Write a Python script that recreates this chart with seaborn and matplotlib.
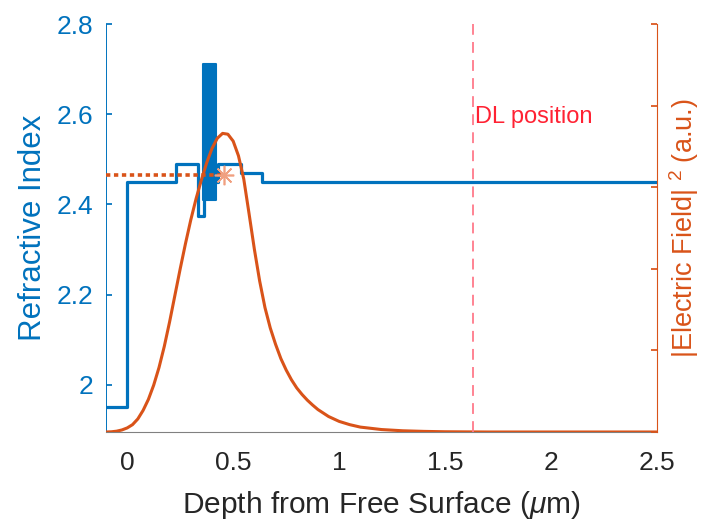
import matplotlib
matplotlib.use("Agg")
import matplotlib.pyplot as plt
import seaborn as sns
import pandas as pd

# ================================
# Data
# ================================
# refractive index profile (step edges, value holds until next edge)
depth_edges = [-0.1, 0.0, 0.23, 0.334, 0.36, 0.42, 0.43, 0.535, 0.635, 2.5]
n_values = [1.95, 2.45, 2.49, 2.375, 2.45, 2.45, 2.49, 2.47, 2.45, 2.45]

# superlattice block (thick blue bar)
sl_depth = [0.357, 0.418]
sl_low = 2.41
sl_high = 2.712

# |E|^2 profile (a.u.)
field_depth = [-0.1, -0.075, -0.05, -0.025, 0.0, 0.025, 0.05, 0.075, 0.1, 0.125,
               0.15, 0.175, 0.2, 0.225, 0.25, 0.275, 0.3, 0.325, 0.35, 0.375,
               0.4, 0.425, 0.45, 0.475, 0.5, 0.525, 0.55, 0.575, 0.6, 0.625,
               0.65, 0.675, 0.7, 0.725, 0.75, 0.775, 0.8, 0.825, 0.85, 0.875,
               0.9, 0.95, 1.0, 1.05, 1.1, 1.2, 1.3, 1.4, 1.5, 1.7, 2.5]
field_values = [0.0, 0.0005, 0.002, 0.005, 0.01, 0.018, 0.032, 0.053, 0.08, 0.115,
                0.158, 0.21, 0.27, 0.335, 0.40, 0.462, 0.52, 0.572, 0.618, 0.66,
                0.695, 0.72, 0.732, 0.73, 0.713, 0.677, 0.62, 0.535, 0.448, 0.37,
                0.305, 0.255, 0.215, 0.18, 0.152, 0.128, 0.108, 0.092, 0.078, 0.066,
                0.055, 0.038, 0.026, 0.018, 0.012, 0.006, 0.003, 0.0015, 0.0006, 0.0, 0.0]

# dotted marker line
marker_line_x = [-0.1, 0.456]
marker_line_y = [0.63, 0.63]

dl_position = 1.63
x_ticks = [0, 0.5, 1, 1.5, 2, 2.5]
x_tick_labels = ["0", "0.5", "1", "1.5", "2", "2.5"]
n_ticks = [2.0, 2.2, 2.4, 2.6, 2.8]
n_tick_labels = ["2", "2.2", "2.4", "2.6", "2.8"]
field_ticks = [0, 0.2, 0.4, 0.6, 0.8, 1.0]

BLUE = "#0072BD"
ORANGE = "#D95319"

# ================================
# Plot
# ================================
sns.set_theme(style="white")
plt.rcParams["font.family"] = ["Liberation Sans", "DejaVu Sans"]
plt.rcParams["mathtext.fontset"] = "custom"
plt.rcParams["mathtext.it"] = "Liberation Sans:italic"
plt.rcParams["mathtext.rm"] = "Liberation Sans"

fig = plt.figure(figsize=(7.13, 5.23), dpi=100)
ax = fig.add_axes([0.1487, 0.174, 0.7728, 0.78])

profile = pd.DataFrame({"depth": depth_edges, "n": n_values})
sns.lineplot(data=profile, x="depth", y="n", ax=ax, color=BLUE, linewidth=2.3,
             drawstyle="steps-post", sort=False)
ax.fill_between(sl_depth, sl_low, sl_high, color=BLUE, linewidth=1.5, edgecolor=BLUE)

ax.set_xlim(-0.1, 2.5)
ax.set_ylim(1.895, 2.8)
ax.set_xticks(x_ticks)
ax.set_xticklabels(x_tick_labels)
ax.set_yticks(n_ticks)
ax.set_yticklabels(n_tick_labels)
ax.set_xlabel(r"Depth from Free Surface ($\mu$m)", fontsize=21.5, color="#262626", labelpad=10)
ax.set_ylabel("Refractive Index", fontsize=22.5, color=BLUE, labelpad=6)
ax.tick_params(axis="x", direction="in", length=4, colors="#262626", labelsize=19, pad=14)
ax.tick_params(axis="y", direction="in", length=4, colors=BLUE, labelsize=19, pad=9)
ax.spines["top"].set_visible(False)
ax.spines["right"].set_visible(False)
ax.spines["left"].set_color(BLUE)
ax.spines["left"].set_linewidth(0.7)
ax.spines["bottom"].set_color("#808080")
ax.spines["bottom"].set_linewidth(0.8)

ax2 = ax.twinx()
field = pd.DataFrame({"depth": field_depth, "E2": field_values})
sns.lineplot(data=field, x="depth", y="E2", ax=ax2, color=ORANGE, linewidth=2.2)
ax2.plot(marker_line_x, marker_line_y, linestyle=(0, (1.2, 1.0)), color=ORANGE, linewidth=2.6)
ax2.plot(marker_line_x[-1:], marker_line_y[-1:], marker=(8, 2, 0), markersize=14,
         color="#F0A080", markeredgewidth=1.2, linestyle="none")
ax2.axvline(dl_position, color="#FF7A8A", linestyle=(0, (6, 4)), linewidth=1.3)
ax2.set_ylim(0, 1)
ax2.set_xlim(-0.1, 2.5)
ax2.set_yticks(field_ticks)
ax2.set_yticklabels([])
ax2.tick_params(axis="y", direction="in", length=4, colors=ORANGE)
ax2.set_ylabel(r"|Electric Field| $^2$ (a.u.)", fontsize=19.5, color=ORANGE, labelpad=4)
ax2.spines["top"].set_visible(False)
ax2.spines["left"].set_visible(False)
ax2.spines["bottom"].set_visible(False)
ax2.spines["right"].set_color(ORANGE)
ax2.spines["right"].set_linewidth(0.8)

ax.text(dl_position + 0.012, 2.594, "DL position", color="#FF2233", fontsize=17,
        va="center", ha="left")

plt.savefig("out.png", dpi=100)
